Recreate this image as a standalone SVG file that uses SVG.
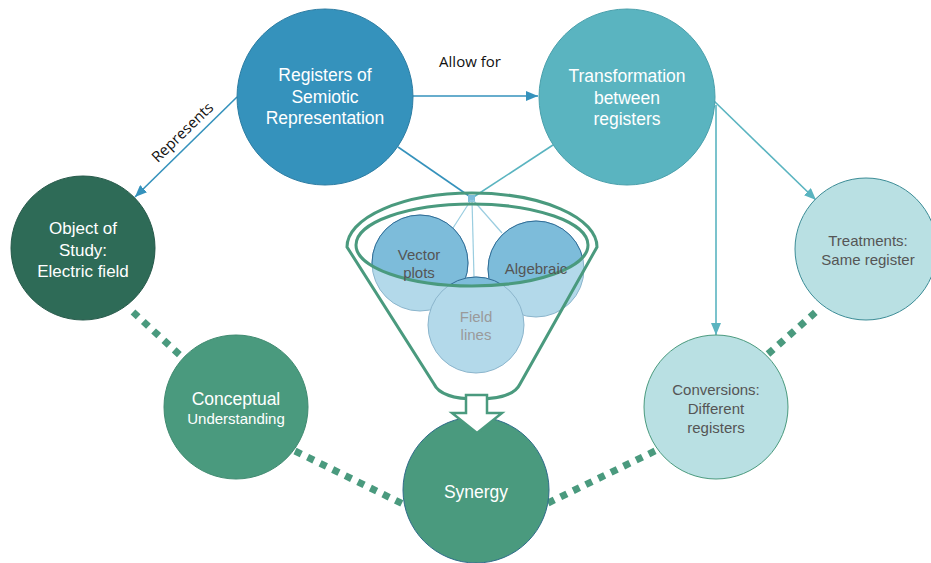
<svg xmlns="http://www.w3.org/2000/svg" width="931" height="563" viewBox="0 0 931 563">
<defs>
<style>
.lbl{font-family:"Liberation Sans",Arial,sans-serif;text-anchor:middle}
.w{fill:#ffffff;font-size:17.5px}
.g{fill:#555555;font-size:15px}
.note{font-family:"Open Sans","Noto Sans",sans-serif;font-size:15px;fill:#111111}
.dash{stroke:#4A9A7E;stroke-width:7;stroke-dasharray:7 7;fill:none}
.blue{stroke:#3592BC;stroke-width:1.6;fill:none}
.teal{stroke:#5AB4C0;stroke-width:1.6;fill:none}
.thin{stroke:#9ACDE0;stroke-width:1.2;fill:none}
.funnel{stroke:#4A9A7E;stroke-width:3;fill:none}
</style>
<marker id="ab" viewBox="0 0 12 10" refX="12" refY="5" markerWidth="12" markerHeight="10" markerUnits="userSpaceOnUse" orient="auto"><path d="M0,0 L12,5 L0,10 Z" fill="#3592BC"/></marker>
<marker id="at" viewBox="0 0 12 10" refX="12" refY="5" markerWidth="12" markerHeight="10" markerUnits="userSpaceOnUse" orient="auto"><path d="M0,0 L12,5 L0,10 Z" fill="#5AB4C0"/></marker>
<clipPath id="inner"><ellipse cx="472" cy="245" rx="116" ry="41"/></clipPath>
</defs>
<rect width="931" height="563" fill="#ffffff"/>

<g id="connectors">
<path class="dash" d="M133,312 L183,358"/>
<path class="dash" d="M295,451 L405,505"/>
<path class="dash" d="M548,503 L657,450"/>
<path class="dash" d="M768,354 L818,310"/>
<path class="blue" d="M398,147 L472,198"/>
<path class="teal" d="M553,145 L472,198"/>
<path class="blue" d="M413,96 L538,96" marker-end="url(#ab)"/>
<path class="blue" d="M237,97 L135,197" marker-end="url(#ab)"/>
<path class="teal" d="M716,105 L716,335" marker-end="url(#at)"/>
<path class="teal" d="M713,100 L816,200" marker-end="url(#at)"/>
</g>

<g id="registers">
<circle cx="325" cy="97" r="88" fill="#3592BC" stroke="#2D7DA3" stroke-width="1"/>
<text class="lbl w" x="325" y="81">Registers of</text>
<text class="lbl w" x="325" y="102.5">Semiotic</text>
<text class="lbl w" x="325" y="124">Representation</text>
</g>

<g id="transformation">
<circle cx="627" cy="97" r="88" fill="#5AB4C0" stroke="#4AA0AC" stroke-width="1"/>
<text class="lbl w" x="627" y="82">Transformation</text>
<text class="lbl w" x="627" y="103.5">between</text>
<text class="lbl w" x="627" y="125">registers</text>
</g>

<g id="object">
<circle cx="83" cy="248" r="72" fill="#2E6B57" stroke="#26594A" stroke-width="1"/>
<text class="lbl w" x="83" y="234" style="font-size:17px">Object of</text>
<text class="lbl w" x="83" y="256" style="font-size:17px">Study:</text>
<text class="lbl w" x="83" y="277" style="font-size:17px">Electric field</text>
</g>

<g id="conceptual">
<circle cx="236" cy="407" r="72" fill="#4A9A7E" stroke="#3F8A70" stroke-width="1"/>
<text class="lbl w" x="236" y="405">Conceptual</text>
<text class="lbl w" x="236" y="424" style="font-size:15px">Understanding</text>
</g>

<g id="synergy">
<circle cx="476" cy="490" r="73" fill="#4A9A7E" stroke="#2E6B8A" stroke-width="1"/>
<text class="lbl w" x="476" y="498">Synergy</text>
</g>

<g id="conversions">
<circle cx="716" cy="407" r="72" fill="#B9E0E3" stroke="#4A9A7E" stroke-width="1"/>
<text class="lbl g" x="716" y="395">Conversions:</text>
<text class="lbl g" x="716" y="414">Different</text>
<text class="lbl g" x="716" y="433">registers</text>
</g>

<g id="treatments">
<circle cx="866" cy="249" r="71" fill="#B9E0E3" stroke="#3C8C96" stroke-width="1"/>
<text class="lbl g" x="868" y="246">Treatments:</text>
<text class="lbl g" x="868" y="265">Same register</text>
</g>

<g id="links">
<rect x="468" y="195" width="7" height="7" fill="#7DBCDA"/>
<path class="thin" d="M471,200 L453,228"/>
<path class="thin" d="M472,200 L474,277"/>
<path class="thin" d="M473,200 L502,233"/>
</g>

<g id="vector-plots">
<circle cx="420" cy="263" r="48" fill="#B3D9EA" stroke="#8BB5CC" stroke-width="1"/>
<circle cx="420" cy="263" r="48" fill="#7DBCDA" stroke="#2F6C96" stroke-width="1" clip-path="url(#inner)"/>
</g>
<g id="algebraic">
<circle cx="536" cy="269" r="48" fill="#B3D9EA" stroke="#8BB5CC" stroke-width="1"/>
<circle cx="536" cy="269" r="48" fill="#7DBCDA" stroke="#2F6C96" stroke-width="1" clip-path="url(#inner)"/>
</g>
<g id="field-lines">
<circle cx="476" cy="325" r="48" fill="#B3D9EA" stroke="#8BB5CC" stroke-width="1"/>
<circle cx="476" cy="325" r="48" fill="#7DBCDA" stroke="#2F6C96" stroke-width="1" clip-path="url(#inner)"/>
</g>

<g id="funnel">
<ellipse class="funnel" cx="472" cy="245" rx="116" ry="41"/>
<path class="funnel" d="M347,247 A125,54 0 0 1 597,247 L520,384 Q513,399 477,399 Q441,399 434,384 Z"/>
<path d="M466,395 L487,395 L487,413 L502,413 L477,433 L452,413 L466,413 Z" fill="#ffffff" stroke="#4A9A7E" stroke-width="2.5" stroke-linejoin="miter"/>
</g>

<g id="inner-labels">
<text class="lbl g" x="419" y="260">Vector</text>
<text class="lbl g" x="419" y="278">plots</text>
<text class="lbl g" x="536" y="274">Algebraic</text>
<text class="lbl g" x="476" y="322" style="fill:#9A9A9A">Field</text>
<text class="lbl g" x="476" y="340" style="fill:#9A9A9A">lines</text>
</g>

<g id="edge-labels">
<text class="note" x="470" y="67" text-anchor="middle">Allow for</text>
<text class="note" x="0" y="0" text-anchor="middle" transform="translate(186,136) rotate(-44)">Represents</text>
</g>
</svg>
